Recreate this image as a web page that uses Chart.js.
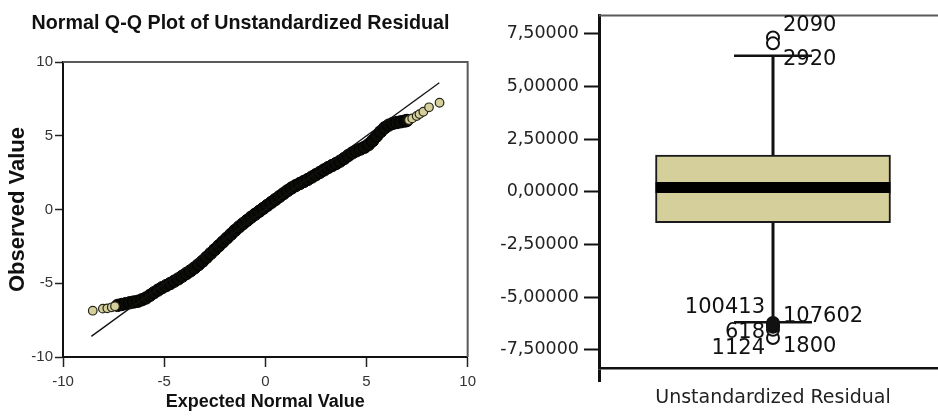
<!DOCTYPE html>
<html>
<head>
<meta charset="utf-8">
<script src="https://cdn.jsdelivr.net/npm/chart.js@4.4.0/dist/chart.umd.min.js"></script>
<style>
    html, body { margin: 0; padding: 0; background: #fff; overflow: hidden; width: 938px; height: 417px; }
    #qq { position: absolute; left: 0; top: 0; }
    #box { position: absolute; left: 470px; top: 0; }
</style>
</head>
<body>
<canvas id="qq" width="482" height="417"></canvas>
<canvas id="box" width="490" height="417"></canvas>
<script>
// --- Q-Q plot data (expected normal value vs observed value) ---
const qqTicks = [-10, -5, 0, 5, 10];
const refLine = [-8.6, 8.6];

// sparse lower tail
const qqLowX = [-8.53, -8.03, -7.81, -7.59, -7.43];
const qqLowY = [-6.86, -6.72, -6.70, -6.63, -6.56];

// dense middle band
const qqX = [
    -7.3, -7.1, -6.9, -6.7, -6.5, -6.3, -6.1, -5.9, -5.7, -5.5, -5.3, -5.1,
    -4.9, -4.7, -4.5, -4.3, -4.1, -3.9, -3.7, -3.5, -3.3, -3.1, -2.9, -2.7,
    -2.5, -2.3, -2.1, -1.9, -1.7, -1.5, -1.3, -1.1, -0.9, -0.7, -0.5, -0.3,
    -0.1, 0.1, 0.3, 0.5, 0.7, 0.9, 1.1, 1.3, 1.5, 1.7, 1.9, 2.1,
    2.3, 2.5, 2.7, 2.9, 3.1, 3.3, 3.5, 3.7, 3.9, 4.1, 4.3, 4.5,
    4.7, 4.9, 5.1, 5.3, 5.5, 5.7, 5.9, 6.1, 6.3, 6.5, 6.7, 6.9, 7.0,
];
const qqY = [
    -6.50, -6.44, -6.38, -6.32, -6.27, -6.22, -6.12, -6.00, -5.82, -5.64, -5.46, -5.30,
    -5.16, -5.02, -4.86, -4.70, -4.52, -4.34, -4.16, -3.96, -3.74, -3.50, -3.24, -2.98,
    -2.72, -2.46, -2.20, -1.94, -1.68, -1.42, -1.18, -0.96, -0.74, -0.52, -0.32, -0.12,
    0.08, 0.28, 0.48, 0.68, 0.88, 1.08, 1.28, 1.46, 1.62, 1.76, 1.90, 2.04,
    2.20, 2.36, 2.52, 2.68, 2.84, 2.98, 3.12, 3.28, 3.46, 3.66, 3.84, 3.98,
    4.10, 4.22, 4.40, 4.66, 4.98, 5.28, 5.54, 5.72, 5.84, 5.90, 5.95, 6.00, 6.04,
];

// sparse upper tail
const qqHighX = [7.10, 7.26, 7.48, 7.62, 7.81, 8.09, 8.61];
const qqHighY = [6.07, 6.18, 6.34, 6.47, 6.63, 6.93, 7.24];

// --- Boxplot data ---
const boxCategory = "Unstandardized Residual";
const residualTicks = [-7.5, -5, -2.5, 0, 2.5, 5, 7.5];
// lower whisker, Q1, median, Q3, upper whisker
const boxStats = [-6.19, -1.47, 0.2, 1.74, 6.45];
const upperOutliers = [7.32, 7.04];
const lowerOutliers = [-6.94, -6.55, -6.40, -6.34, -6.28, -6.22];
const caseIds = ["2090", "2920", "100413", "107602", "618", "1124", "1800"];
const caseLabelY = [7.89, 6.28, -5.48, -5.92, -6.69, -7.45, -7.33];
const caseSide = ["right", "right", "left", "right", "left", "left", "right"];

const TAN = "#d5d09b";
const BOX_HALF = 0.675;   // half box width in x units
const CAP_HALF = 0.224;   // half whisker cap width

const zip = (xs, ys) => xs.map((x, i) => ({ x, y: ys[i] }));

// top + right border of plot area
const framePlugin = {
    id: "frame",
    beforeDatasetsDraw(chart) {
        const { ctx, chartArea: a } = chart;
        ctx.save();
        ctx.strokeStyle = "#5a5a5a";
        ctx.lineWidth = 2;
        ctx.beginPath();
        ctx.moveTo(a.left, a.top);
        ctx.lineTo(a.right, a.top);
        ctx.lineTo(a.right, a.bottom);
        ctx.stroke();
        ctx.restore();
    },
};

const caseLabelPlugin = {
    id: "caseLabels",
    beforeDatasetsDraw(chart) {
        const { ctx, scales: { x, y } } = chart;
        const cx = x.getPixelForValue(1);
        ctx.save();
        ctx.font = "21px 'DejaVu Sans'";
        ctx.fillStyle = "#111";
        ctx.textBaseline = "middle";
        caseIds.forEach((id, i) => {
            const left = caseSide[i] === "left";
            ctx.textAlign = left ? "right" : "left";
            ctx.fillText(id, cx + (left ? -8 : 10), y.getPixelForValue(caseLabelY[i]));
        });
        ctx.restore();
    },
};

const sans = "'Liberation Sans', Arial, sans-serif";

new Chart(document.getElementById("qq"), {
    type: "scatter",
    data: {
        datasets: [
            {
                type: "line",
                data: refLine.map(v => ({ x: v, y: v })),
                borderColor: "#111",
                borderWidth: 1.3,
                pointRadius: 0,
            },
            {
                data: zip(qqLowX, qqLowY),
                backgroundColor: TAN,
                borderColor: "#26261a",
                borderWidth: 1.2,
                pointRadius: 4.3,
            },
            {
                data: zip(qqHighX, qqHighY),
                backgroundColor: TAN,
                borderColor: "#26261a",
                borderWidth: 1.2,
                pointRadius: 4.3,
            },
            {
                data: zip(qqX, qqY),
                backgroundColor: "#0b0b07",
                borderColor: "#000",
                borderWidth: 1,
                pointRadius: 6.2,
            },
        ],
    },
    options: {
        responsive: false,
        animation: false,
        events: [],
        layout: { autoPadding: false, padding: { left: 0, right: 1, top: 0, bottom: 0 } },
        plugins: {
            legend: { display: false },
            tooltip: { enabled: false },
            title: {
                display: true,
                text: "Normal Q-Q Plot of Unstandardized Residual",
                font: { family: "'Liberation Sans Narrow', 'Liberation Sans', Arial", size: 19.7, weight: "bold" },
                color: "#111",
                padding: { top: 11.5, bottom: 26.9 },
            },
        },
        scales: {
            x: {
                type: "linear",
                min: -10,
                max: 10,
                afterBuildTicks: s => { s.ticks = qqTicks.map(v => ({ value: v })); },
                afterFit: s => { s.height = 60; },
                grid: { drawOnChartArea: false, drawTicks: true, tickLength: 10, tickColor: "#222", tickWidth: 1.5 },
                border: { display: true, color: "#111", width: 2 },
                ticks: { font: { family: sans, size: 15 }, color: "#333", padding: 6, maxRotation: 0, autoSkip: false },
                title: {
                    display: true,
                    text: "Expected Normal Value",
                    font: { family: sans, size: 18, weight: "bold" },
                    color: "#111",
                    padding: { top: 0, bottom: 4 },
                },
            },
            y: {
                type: "linear",
                min: -10,
                max: 10,
                afterBuildTicks: s => { s.ticks = qqTicks.map(v => ({ value: v })); },
                afterFit: s => { s.width = 63; },
                grid: { drawOnChartArea: false, drawTicks: true, tickLength: 8, tickColor: "#222", tickWidth: 1.5 },
                border: { display: true, color: "#111", width: 2 },
                ticks: { font: { family: sans, size: 15 }, color: "#333", padding: 2, autoSkip: false },
                title: {
                    display: true,
                    text: "Observed Value",
                    font: { family: sans, size: 22, weight: "bold" },
                    color: "#111",
                    padding: { top: 5, bottom: 0 },
                },
            },
        },
    },
    plugins: [framePlugin],
});

const dejavu = "'DejaVu Sans', sans-serif";
const [wLo, q1, med, q3, wHi] = boxStats;

new Chart(document.getElementById("box"), {
    type: "bar",
    data: {
        datasets: [
            {
                type: "scatter",
                data: upperOutliers.concat(lowerOutliers).map(v => ({ x: 1, y: v })),
                pointRadius: 6,
                borderWidth: 2,
                borderColor: "#111",
                backgroundColor: ctx => (ctx.raw && ctx.raw.y < -6.1 && ctx.raw.y > -6.45 ? "#111" : "#fff"),
            },
            {
                type: "line",
                data: [{ x: 1 - CAP_HALF, y: wHi }, { x: 1 + CAP_HALF, y: wHi }],
                borderColor: "#111", borderWidth: 2.5, pointRadius: 0,
            },
            {
                type: "line",
                data: [{ x: 1 - CAP_HALF, y: wLo }, { x: 1 + CAP_HALF, y: wLo }],
                borderColor: "#111", borderWidth: 2.5, pointRadius: 0,
            },
            {
                type: "line",
                data: [{ x: 1, y: q3 }, { x: 1, y: wHi }],
                borderColor: "#111", borderWidth: 3, pointRadius: 0,
            },
            {
                type: "line",
                data: [{ x: 1, y: q1 }, { x: 1, y: wLo }],
                borderColor: "#111", borderWidth: 3, pointRadius: 0,
            },
            {
                type: "line",
                data: [{ x: 1 - BOX_HALF, y: med }, { x: 1 + BOX_HALF, y: med }],
                borderColor: "#000", borderWidth: 11, borderCapStyle: "butt", pointRadius: 0,
            },
            {
                type: "bar",
                data: [{ x: 1, y: [q1, q3] }],
                backgroundColor: TAN,
                borderColor: "#1a1a1a",
                borderWidth: 2,
                borderSkipped: false,
                barThickness: 235,
            },
        ],
    },
    options: {
        responsive: false,
        animation: false,
        events: [],
        layout: { autoPadding: false, padding: { left: 0, right: 13, top: 15, bottom: 0 } },
        plugins: { legend: { display: false }, tooltip: { enabled: false } },
        scales: {
            x: {
                type: "linear",
                min: 0,
                max: 2,
                offset: false,
                afterBuildTicks: s => { s.ticks = [{ value: 1 }]; },
                afterFit: s => { s.height = 49; },
                grid: { drawOnChartArea: false, drawTicks: true, tickLength: 14, tickColor: "#111", tickWidth: 3 },
                border: { display: true, color: "#111", width: 2.5 },
                ticks: { callback: () => boxCategory, font: { family: dejavu, size: 19 }, color: "#222", padding: 5, maxRotation: 0, autoSkip: false },
            },
            y: {
                type: "linear",
                min: -8.36,
                max: 8.36,
                afterBuildTicks: s => { s.ticks = residualTicks.map(v => ({ value: v })); },
                afterFit: s => { s.width = 129; },
                grid: { drawOnChartArea: false, drawTicks: true, tickLength: 15, tickColor: "#111", tickWidth: 2 },
                border: { display: true, color: "#111", width: 3 },
                ticks: {
                    callback: v => v.toFixed(5).replace(".", ","),
                    font: { family: dejavu, size: 17.5 },
                    color: "#222",
                    padding: 5,
                    autoSkip: false,
                },
            },
        },
    },
    plugins: [framePlugin, caseLabelPlugin],
});
</script>
</body>
</html>
